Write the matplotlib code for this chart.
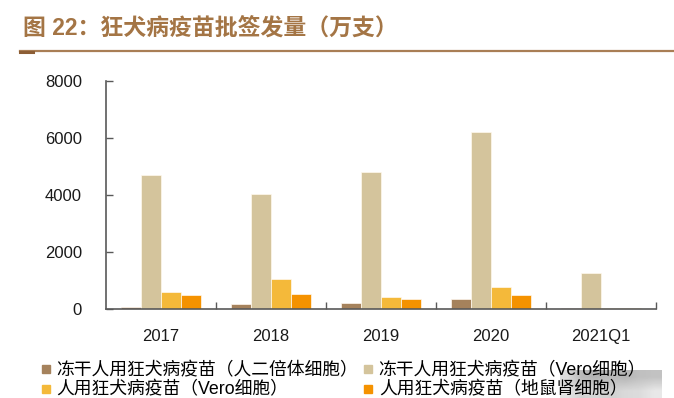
import numpy as np
import matplotlib
matplotlib.use('Agg')
import matplotlib.pyplot as plt
from matplotlib.lines import Line2D

plt.rcParams['font.family'] = ['Liberation Sans', 'Noto Sans CJK SC', 'DejaVu Sans']

categories = ['2017', '2018', '2019', '2020', '2021Q1']
series_names = ['冻干人用狂犬病疫苗（人二倍体细胞）', '冻干人用狂犬病疫苗（Vero细胞）',
                '人用狂犬病疫苗（Vero细胞）', '人用狂犬病疫苗（地鼠肾细胞）']
hdc_lyo = [80, 195, 220, 350, 40]
vero_lyo = [4700, 4020, 4805, 6205, 1260]
vero = [605, 1070, 430, 770, 50]
hamster = [500, 525, 350, 500, 40]
colors = ['#A5825C', '#D4C49C', '#F4B93A', '#F59200']

series = [hdc_lyo, vero_lyo, vero, hamster]

fig = plt.figure(figsize=(6.74, 3.98), dpi=100)
ax = fig.add_axes([0.1568, 0.2229, 0.816, 0.5748])

x = np.arange(len(categories))
w = 0.182
for i, vals in enumerate(series):
    ax.bar(x + (i - 1.5) * w, vals, width=w, color=colors[i],
           edgecolor='#FFF8EE', linewidth=0.5, zorder=2)

ax.set_xlim(-0.5, len(categories) - 0.5)
ax.set_ylim(0, 8000)
ax.set_yticks([0, 2000, 4000, 6000, 8000])
ax.set_xticks(x)
ax.set_xticklabels(categories)
ax.set_xticks(np.arange(0.5, len(categories), 1.0), minor=True)
ax.tick_params(axis='x', which='major', length=0, pad=14, labelsize=12, colors='#1A1A1A')
ax.tick_params(axis='x', which='minor', direction='in', length=5, width=1, color='#595959')
ax.tick_params(axis='y', direction='in', length=5, width=1, color='#595959',
               labelsize=12, labelcolor='#1A1A1A', pad=17)
for s in ['top', 'right']:
    ax.spines[s].set_visible(False)
for s in ['left', 'bottom']:
    ax.spines[s].set_color('#595959')
    ax.spines[s].set_linewidth(1.2)

# title and rule
fig.text(0.034, 0.93, '图 22：狂犬病疫苗批签发量（万支）', fontsize=16.5, fontweight='bold',
         color='#A47545', va='center', ha='left',
         family=['Liberation Sans', 'Noto Sans CJK SC'])
fig.add_artist(Line2D([20 / 674, 1.0], [0.873, 0.873], color='#A97E55', lw=1.6))
fig.add_artist(Line2D([20 / 674, 33 / 674], [0.869, 0.869], color='#8C5E35', lw=2.2))

# legend, filled row by row
handles = [Line2D([], [], marker='s', linestyle='none', markersize=6,
                  markerfacecolor=c, markeredgecolor=c) for c in colors]
order = [0, 2, 1, 3]
fig.legend([handles[i] for i in order], [series_names[i] for i in order],
           ncol=2, loc='upper left',
           bbox_to_anchor=(0.047, 0.112), frameon=False, borderpad=0,
           handlelength=0.6, handletextpad=0.3, columnspacing=0.25, labelspacing=0.12,
           prop={'family': ['Liberation Sans', 'Noto Sans CJK SC'], 'size': 12.8})

# watermark mosaic
wm = fig.add_axes([560 / 674, 0.0, 102 / 674, 28 / 398])
grid = np.array([[0.86, 0.72, 0.70, 0.73, 0.71, 0.75, 0.76],
                 [0.89, 0.83, 0.84, 0.82, 0.85, 0.86, 0.91]])
wm.imshow(grid, cmap='gray', vmin=0, vmax=1, aspect='auto', interpolation='bilinear')
wm.axis('off')

fig.savefig('out.png', dpi=100)
